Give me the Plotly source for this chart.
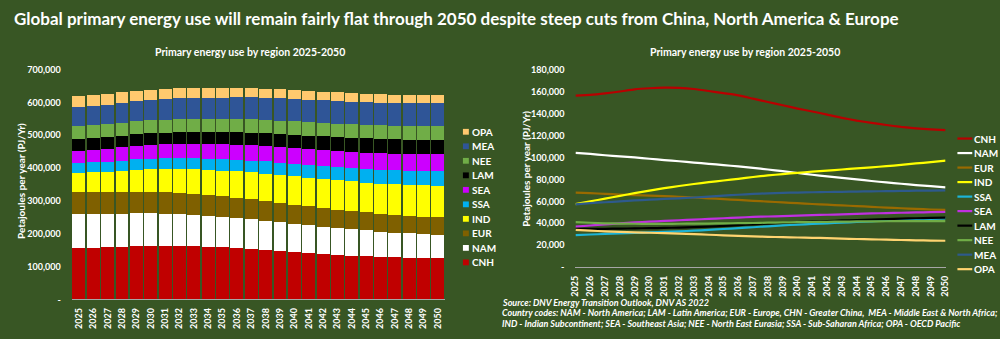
import plotly.graph_objects as go

# ---- data (petajoules per year) ----
years = [str(y) for y in range(2025, 2051)]
regions = ["CNH", "NAM", "EUR", "IND", "SSA", "SEA", "LAM", "NEE", "MEA", "OPA"]

cnh = [156300, 157000, 158300, 160000, 162000, 163000, 163500, 163300, 162300, 160500, 158500, 156500,
       153500, 150500, 147500, 144500, 141800, 139000, 136000, 133500, 131500, 129500, 127800, 126500, 125500, 124800]
nam = [104200, 103200, 102000, 101000, 100000, 98800, 97500, 96500, 95300, 94200, 93000, 91800, 90500,
       89000, 87500, 85800, 84200, 82800, 81300, 80000, 78500, 77200, 76000, 74800, 73800, 72800]
eur = [68000, 67500, 66800, 66200, 65700, 65200, 64700, 64200, 63500, 62800, 62000, 61300, 60500,
       59800, 59000, 58300, 57600, 57000, 56300, 55700, 55000, 54300, 53700, 53100, 52600, 52200]
ind = [57500, 60000, 62500, 65000, 67500, 69800, 72000, 74000, 75800, 77500, 79000, 80500,
       82200, 83600, 84800, 86000, 87000, 88000, 89000, 90000, 91000, 92000, 93200, 94500, 95700, 97000]
ssa = [29300, 29800, 30300, 30800, 31200, 31700, 32200, 32700, 33300, 34000, 34800, 35600, 36400,
       37300, 38100, 38800, 39400, 40000, 40600, 41200, 41800, 42400, 43000, 43500, 44000, 44500]
sea = [37000, 38000, 39000, 40000, 40800, 41500, 42200, 42800, 43400, 44000, 44600, 45200, 45800,
       46200, 46600, 47000, 47400, 47800, 48200, 48600, 49000, 49300, 49600, 49900, 50200, 50500]
lam = [35000, 35000, 35000, 35200, 35400, 35600, 35800, 36100, 36500, 37000, 37600, 38300, 39100,
       39800, 40400, 41000, 41600, 42100, 42600, 43000, 43400, 43800, 44200, 44600, 44900, 45200]
nee = [41000, 40500, 40000, 39800, 39600, 39500, 39500, 39600, 39700, 39800, 40000, 40100, 40300,
       40600, 40800, 41000, 41200, 41400, 41500, 41700, 41800, 41900, 42000, 42000, 42000, 42000]
mea = [57300, 58300, 59200, 60000, 60800, 61500, 62200, 62800, 63500, 64300, 65200, 66000, 66800,
       67300, 67700, 68000, 68300, 68500, 68700, 68900, 69100, 69300, 69500, 69700, 69800, 70000]
opa = [34000, 33300, 32700, 32200, 31800, 31400, 31000, 30600, 30100, 29600, 29100, 28600, 28100,
       27700, 27400, 27100, 26800, 26500, 26100, 25700, 25400, 25100, 24800, 24500, 24300, 24100]

series = [cnh, nam, eur, ind, ssa, sea, lam, nee, mea, opa]

bar_ticks = [0, 100000, 200000, 300000, 400000, 500000, 600000, 700000]
bar_tick_text = ["-", "100,000", "200,000", "300,000", "400,000", "500,000", "600,000", "700,000"]
line_ticks = [0, 20000, 40000, 60000, 80000, 100000, 120000, 140000, 160000, 180000]
line_tick_text = ["-", "20,000", "40,000", "60,000", "80,000", "100,000", "120,000", "140,000", "160,000", "180,000"]

title = "Global primary energy use will remain fairly flat through 2050 despite steep cuts from China, North America & Europe"
subtitle = "Primary energy use by region 2025-2050"
y_title = "Petajoules per year (PJ/Yr)"
source_lines = [
    "Source: DNV Energy Transition Outlook, DNV AS 2022",
    "Country codes: NAM - North America; LAM - Latin America; EUR - Europe, CHN - Greater China,  MEA - Middle East & North Africa;",
    "IND - Indian Subcontinent; SEA - Southeast Asia; NEE - North East Eurasia; SSA - Sub-Saharan Africa; OPA - OECD Pacific",
]

# ---- styling ----
BG = "#385624"
FONT = "Lato, 'Liberation Sans', sans-serif"
bar_colors = {"CNH": "#C00000", "NAM": "#FFFFFF", "EUR": "#7F6000", "IND": "#FFFF00", "SSA": "#00B0F0",
              "SEA": "#CC00FF", "LAM": "#000000", "NEE": "#70AD47", "MEA": "#2F5597", "OPA": "#FFC96E"}
line_colors = {"CNH": "#B80000", "NAM": "#FFFFFF", "EUR": "#9A6A00", "IND": "#FFFF00", "SSA": "#1CB4D8",
               "SEA": "#C030E0", "LAM": "#000000", "NEE": "#70AD47", "MEA": "#2E5A8C", "OPA": "#FFD470"}

W, H = 1000, 339


def fx(x):
    return x / W


def fy(y):
    return 1 - y / H


def note(text, x, y, size, anchor="left", **extra):
    font = dict(family=FONT, size=size, color="white", weight="bold")
    font.update(extra.pop("font", {}))
    return dict(text=text, xref="paper", yref="paper", x=fx(x), y=fy(y), xanchor=anchor, yanchor="middle",
                showarrow=False, font=font, **extra)


fig = go.Figure()

for name, vals in zip(regions, series):
    fig.add_trace(go.Bar(x=years, y=vals, name=name, marker=dict(color=bar_colors[name], line=dict(width=0)),
                         xaxis="x", yaxis="y", showlegend=False))
for name, vals in zip(regions, series):
    fig.add_trace(go.Scatter(x=years, y=vals, name=name, mode="lines",
                             line=dict(color=line_colors[name], width=2.2, shape="spline", smoothing=0.5),
                             xaxis="x2", yaxis="y2", showlegend=False))

tick_font = dict(family=FONT, size=9, color="white", weight="bold")

annotations = [
    note(title, 6, 13, 17),
    note(subtitle, 247, 48, 10.5, anchor="center"),
    note(subtitle, 747, 48, 10.5, anchor="center"),
    note(y_title, 15, 181, 10, anchor="center", textangle=-90),
    note(y_title, 525, 168, 10, anchor="center", textangle=-90),
]
for i, line in enumerate(source_lines):
    annotations.append(note(line, 499, 306 + 11 * i, 9, font=dict(style="italic")))

shapes = []
# legend for the stacked bars (top item is the top segment)
for i, name in enumerate(reversed(regions)):
    yc = 130 + 15 * i
    shapes.append(dict(type="rect", xref="paper", yref="paper", x0=fx(462), x1=fx(468), y0=fy(yc + 3), y1=fy(yc - 3),
                       fillcolor=bar_colors[name], line=dict(width=0)))
    annotations.append(note(name, 469, yc, 10))
# legend for the lines
for i, name in enumerate(regions):
    yc = 137 + 15 * i
    shapes.append(dict(type="line", xref="paper", yref="paper", x0=fx(962), x1=fx(977), y0=fy(yc), y1=fy(yc),
                       line=dict(color=line_colors[name], width=2.2)))
    annotations.append(note(name, 977, yc, 10))

fig.update_layout(
    width=W, height=H,
    margin=dict(l=0, r=0, t=0, b=0),
    paper_bgcolor=BG, plot_bgcolor=BG,
    barmode="stack", bargap=0.1,
    showlegend=False,
    font=dict(family=FONT, color="white"),
    xaxis=dict(domain=[fx(66.5), fx(444)], type="category", tickangle=-90, tickfont=tick_font,
               showline=True, linecolor="#A6A6A6", linewidth=1, ticks="", showgrid=False, zeroline=False,
               ticklabelstandoff=4),
    yaxis=dict(domain=[fy(303.3), fy(65.7)], range=[0, 700000], tickvals=bar_ticks, ticktext=bar_tick_text,
               tickfont=tick_font, showgrid=False, zeroline=False, showline=False, ticks="",
               ticklabelstandoff=10),
    xaxis2=dict(domain=[fx(575.8), fx(950)], type="category", tickangle=-90, tickfont=tick_font,
                showline=True, linecolor="#A6A6A6", linewidth=1, ticks="", showgrid=False, zeroline=False,
                ticklabelstandoff=4, anchor="y2"),
    yaxis2=dict(domain=[fy(270), fy(65.7)], range=[0, 180000], tickvals=line_ticks, ticktext=line_tick_text,
                tickfont=tick_font, showgrid=False, zeroline=False, showline=False, ticks="",
                ticklabelstandoff=10, anchor="x2"),
    annotations=annotations,
    shapes=shapes,
)

fig.write_html("out.html")
